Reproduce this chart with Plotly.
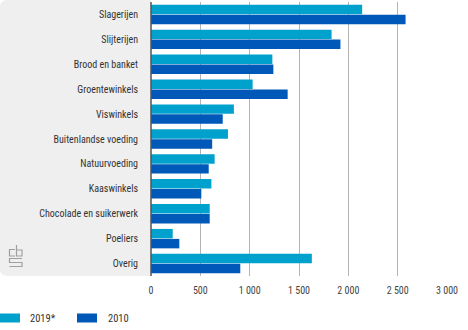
import plotly.graph_objects as go

categories = ["Slagerijen", "Slijterijen", "Brood en banket", "Groentewinkels", "Viswinkels",
              "Buitenlandse voeding", "Natuurvoeding", "Kaaswinkels",
              "Chocolade en suikerwerk", "Poeliers", "Overig"]
values_2019 = [2140, 1830, 1230, 1030, 840, 780, 645, 612, 595, 220, 1630]
values_2010 = [2580, 1920, 1240, 1385, 727, 620, 585, 510, 595, 287, 905]
series_names = ["2019*", "2010"]
tick_vals = [0, 500, 1000, 1500, 2000, 2500, 3000]
tick_text = ["0", "500", "1 000", "1 500", "2 000", "2 500", "3 000"]

C_LIGHT = "#00a1cd"
C_DARK = "#0058b8"
FONT = "Liberation Sans Narrow, Roboto Condensed, Arial Narrow, sans-serif"

W, H = 468, 330
ML, MR, MT, MB = 151, 21, 2, 54
PW, PH = W - ML - MR, H - MT - MB


def px(x):
    return (x - ML) / PW


def py(y):
    return (H - MB - y) / PH


fig = go.Figure()
fig.add_trace(go.Bar(y=categories, x=values_2019, name=series_names[0], orientation="h",
                     marker=dict(color=C_LIGHT, line=dict(width=0)), showlegend=False))
fig.add_trace(go.Bar(y=categories, x=values_2010, name=series_names[1], orientation="h",
                     marker=dict(color=C_DARK, line=dict(width=0)), showlegend=False))

shapes = []
# grey label panel with rounded left corners
r = 7
x0, x1 = px(0), px(151)
y0, y1 = py(276), py(0)
rx, ry = r / PW, r / PH
path = (f"M {x1},{y1} L {x0+rx},{y1} Q {x0},{y1} {x0},{y1-ry} "
        f"L {x0},{y0+ry} Q {x0},{y0} {x0+rx},{y0} L {x1},{y0} Z")
shapes.append(dict(type="path", path=path, xref="paper", yref="paper",
                   fillcolor="#efefef", line=dict(width=0), layer="below"))
# zero line
shapes.append(dict(type="line", xref="paper", yref="paper", x0=0, x1=0, y0=py(276), y1=py(2),
                   line=dict(color="#555555", width=1.5), layer="above"))

# small outlined logo mark in the panel
logo_paths = [
    [(15, 249.5), (9.5, 249.5), (9.5, 256), (15, 256)],
    [(16.5, 245), (16.5, 256), (22, 256), (22, 250), (16.5, 250)],
    [(22, 258.5), (9.5, 258.5), (9.5, 262.5), (22, 262.5), (22, 266.5), (9.5, 266.5)],
]
for pts in logo_paths:
    d = "M " + " L ".join(f"{px(a)},{py(b)}" for a, b in pts)
    shapes.append(dict(type="path", path=d, xref="paper", yref="paper",
                       line=dict(color="#a0a0a0", width=1.2)))

# legend swatches
legend_items = [(0, 28, C_LIGHT, series_names[0]), (77, 106, C_DARK, series_names[1])]
annotations = []
for sx, tx, col, name in legend_items:
    shapes.append(dict(type="rect", xref="paper", yref="paper", x0=px(sx), x1=px(sx + 20),
                       y0=py(322.5), y1=py(313.5), fillcolor=col, line=dict(width=0)))
    annotations.append(dict(text=name, xref="paper", yref="paper", x=px(tx), y=py(318),
                            xanchor="left", yanchor="middle", showarrow=False,
                            font=dict(family=FONT, size=10.5, color="#333333")))

fig.update_layout(
    width=W, height=H,
    margin=dict(l=ML, r=MR, t=MT, b=MB),
    paper_bgcolor="white", plot_bgcolor="white",
    barmode="group", bargap=0.2, bargroupgap=0.05,
    font=dict(family=FONT, size=10, color="#333333"),
    shapes=shapes, annotations=annotations,
    xaxis=dict(range=[0, 3000], tickvals=tick_vals, ticktext=tick_text,
               showgrid=True, gridcolor="#b4b4b4", gridwidth=1, zeroline=False,
               showline=False, ticks="", ticklabelstandoff=7,
               tickfont=dict(family=FONT, size=10, color="#444444")),
    yaxis=dict(autorange="reversed", showgrid=False, zeroline=False, showline=False,
               ticks="", ticklabelstandoff=12,
               tickfont=dict(family=FONT, size=10, color="#333333")),
)

fig.write_html("out.html")
